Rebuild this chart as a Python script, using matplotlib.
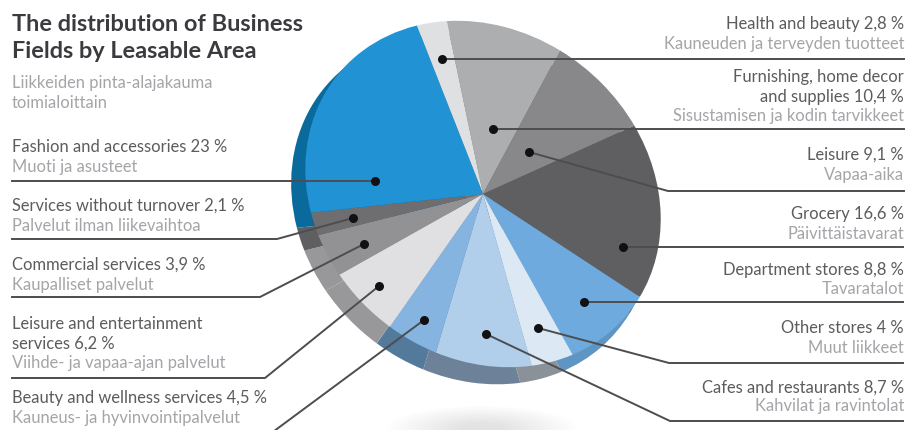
import matplotlib
matplotlib.use('Agg')
import matplotlib.pyplot as plt
from matplotlib.patches import Ellipse
from matplotlib.transforms import Affine2D

# business fields, clockwise from the top of the pie
names_en = ['Health and beauty', 'Furnishing, home decor\nand supplies', 'Leisure', 'Grocery',
            'Department stores', 'Other stores', 'Cafes and restaurants',
            'Beauty and wellness services', 'Leisure and entertainment\nservices',
            'Commercial services', 'Services without turnover', 'Fashion and accessories']
names_fi = ['Kauneuden ja terveyden tuotteet', 'Sisustamisen ja kodin tarvikkeet', 'Vapaa-aika',
            'Päivittäistavarat', 'Tavaratalot', 'Muut liikkeet', 'Kahvilat ja ravintolat',
            'Kauneus- ja hyvinvointipalvelut', 'Viihde- ja vapaa-ajan palvelut',
            'Kaupalliset palvelut', 'Palvelut ilman liikevaihtoa', 'Muoti ja asusteet']
shares = [2.8, 10.4, 9.1, 16.6, 8.8, 4, 8.7, 4.5, 6.2, 3.9, 2.1, 23]

top_colors = ['#dfe0e2', '#adaeb0', '#88888b', '#5f5e61', '#6eaade', '#dce8f3',
              '#b1cfeb', '#85b4e0', '#e0e0e2', '#929294', '#6e6d6f', '#2192d3']
rim_colors = ['#9c9c9e', '#7c7c7e', '#666668', '#4c4b4e', '#5f95c2', '#8b9198',
              '#6d8299', '#53799b', '#98989a', '#98989a', '#5f5f61', '#0a6a9b']

# y of the text rows, x of the text anchor, leader line points (top-left pixel coords)
text_rows = [[24, 44], [77, 97, 116], [155, 175], [214, 234], [270, 289], [328, 348], [388, 406],
             [398, 418], [324, 344, 363], [265, 285], [206, 226], [147, 167]]
leaders = [[(442, 60), (904, 60)],
           [(493, 130), (904, 130)],
           [(529, 153), (668, 192), (904, 192)],
           [(623, 248), (903, 248)],
           [(584, 303), (903, 303)],
           [(538, 329), (669, 364), (903, 364)],
           [(486, 335), (670, 422), (903, 422)],
           [(424, 321), (262, 441)],
           [(379, 287), (265, 379), (12, 379)],
           [(364, 245), (260, 298), (12, 298)],
           [(353, 219), (277, 240), (12, 240)],
           [(375, 182), (12, 182)]]
right_side = [True] * 7 + [False] * 5

W, H = 906, 431
plt.rcParams['font.family'] = ['Lato', 'DejaVu Sans']
fig = plt.figure(figsize=(W / 100, H / 100), dpi=100)
ax = fig.add_axes([0, 0, 1, 1])


def flip(y):
    return H - y


def squash(cx, cy):
    # the pie is seen at an angle: a circle stretched along the upper-left diagonal
    return (Affine2D().rotate_deg(-140).scale(188, 162).rotate_deg(140)
            .translate(cx, flip(cy)) + ax.transData)


def draw_pie(colors, cx, cy, zorder, radius=1):
    wedges, _ = ax.pie(shares, colors=colors, startangle=107.7, counterclock=False, radius=radius,
                       wedgeprops={'linewidth': 0, 'zorder': zorder})
    for w in wedges:
        w.set_transform(squash(cx, cy))


# soft shadow under the pie
for i in range(14):
    ax.add_patch(Ellipse((482, flip(430)), 190 - i * 11, 46 - i * 2.6, color='#808080',
                         alpha=0.016, linewidth=0, zorder=0))

draw_pie(rim_colors, 471, 210, 1, radius=1.012)
draw_pie(top_colors, 483, 195, 2)

ax.set_xlim(0, W)
ax.set_ylim(0, H)
ax.set_aspect('auto')
ax.axis('off')

for pts in leaders:
    xs = [p[0] for p in pts]
    ys = [flip(p[1]) for p in pts]
    ax.plot(xs, ys, color='#4d4d50', lw=1.4, solid_joinstyle='round', zorder=3)
    ax.plot(xs[0], ys[0], 'o', color='#111114', ms=6.5, mew=0, zorder=4)

# labels: English name with share in dark gray, Finnish name in light gray
for en, fi, share, rows, is_right in zip(names_en, names_fi, shares, text_rows, right_side):
    label = (en + ' ' + str(share) + ' %').replace('.', ',')
    lines = label.split('\n') + [fi]
    x = 904 if is_right else 12
    ha = 'right' if is_right else 'left'
    for j, (line, y) in enumerate(zip(lines, rows)):
        color = '#a3a5a8' if j == len(lines) - 1 else '#5c5c5f'
        ax.text(x, flip(y), line, ha=ha, va='center', fontsize=11.9, color=color, zorder=5)

ax.text(12, flip(24), 'The distribution of Business', fontsize=16.9, fontweight='bold',
        color='#3a3a3f', va='center', zorder=5)
ax.text(12, flip(52), 'Fields by Leasable Area', fontsize=16.9, fontweight='bold',
        color='#3a3a3f', va='center', zorder=5)
ax.text(12, flip(83), 'Liikkeiden pinta-alajakauma', fontsize=11.9, color='#a3a5a8', va='center', zorder=5)
ax.text(12, flip(103), 'toimialoittain', fontsize=11.9, color='#a3a5a8', va='center', zorder=5)

fig.savefig('out.png', dpi=100, facecolor='white')
